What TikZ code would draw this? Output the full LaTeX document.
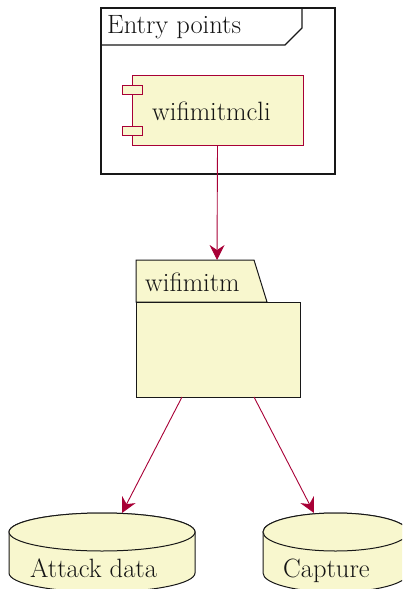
\documentclass[tikz,border=0pt]{standalone}
\usetikzlibrary{arrows.meta}
\definecolor{umlred}{HTML}{A80036}
\definecolor{umlfill}{HTML}{F8F7CE}
\definecolor{umlline}{HTML}{181818}
\begin{document}
\begin{tikzpicture}[x=1pt,y=-1pt,
  lbl/.style={anchor=base west, inner sep=0pt, font=\fontsize{26.5}{30}\selectfont, text=black!92},
  conn/.style={draw=umlred, line width=0.9pt, -{Stealth[length=15pt,width=15pt,inset=5pt]}},
  frameline/.style={draw=umlline, line width=1.3pt},
  boxline/.style={draw=umlline, fill=umlfill, line width=1pt}]
\useasboundingbox (0,0) rectangle (402,589);
\begin{scope}
\clip (0,0) rectangle (402,589);
% Entry points frame
\draw[frameline] (101,8) rectangle (335,174);
\draw[frameline] (101,45) -- (285,45) -- (302,28) -- (302,8);
\node[lbl] (ep) at (107,33) {Entry points};
% component
\node[draw=umlred, fill=umlfill, line width=0.9pt, minimum width=171pt, minimum height=70pt, inner sep=0pt] (comp) at (217.5,110) {};
\draw[draw=umlred, fill=umlfill, line width=0.9pt] (122,85) rectangle (142,94);
\draw[draw=umlred, fill=umlfill, line width=0.9pt] (122,126) rectangle (142,135);
\node[lbl] (compl) at (152,120) {wif{}imitmcli};
% package
\draw[boxline] (136,302) -- (136,260) -- (254,260) -- (267,302) -- cycle;
\node[boxline, minimum width=164pt, minimum height=95pt, inner sep=0pt] (pkg) at (218,349.5) {};
\node[lbl] (pkgl) at (145,291) {wif{}imitm};
\coordinate (pkgin) at (217,260);
\draw[conn] (comp.south) -- (pkgin);
% cylinders
\draw[boxline] (9,532) -- (9,573) arc[start angle=180, end angle=0, x radius=93, y radius=19] -- (195,532) arc[start angle=0, end angle=-180, x radius=93, y radius=19] -- cycle;
\draw[boxline] (102,532) ellipse[x radius=93, y radius=19];
\node[lbl] (db1) at (30,577) {Attack data};
\draw[boxline] (263,532) -- (263,573) arc[start angle=180, end angle=0, x radius=72.5, y radius=19] -- (408,532) arc[start angle=0, end angle=-180, x radius=72.5, y radius=19] -- cycle;
\draw[boxline] (335.5,532) ellipse[x radius=72.5, y radius=19];
\node[lbl] (db2) at (283,577) {Capture};
\coordinate (o1) at (182,397);
\coordinate (o2) at (254,397);
\coordinate (t1) at (122,513);
\coordinate (t2) at (314,513);
\draw[conn] (o1) -- (t1);
\draw[conn] (o2) -- (t2);
\end{scope}
\end{tikzpicture}
\end{document}
